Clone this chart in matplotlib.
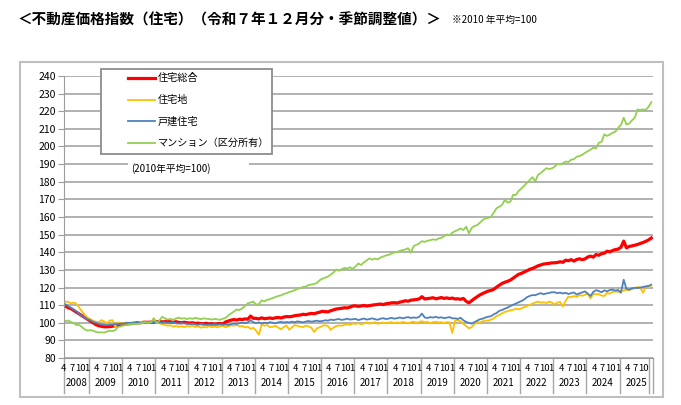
import numpy as np
import matplotlib
matplotlib.use("Agg")
import matplotlib.pyplot as plt
from matplotlib.lines import Line2D
from matplotlib.patches import Rectangle

plt.rcParams['font.family'] = ['Noto Sans CJK JP', 'DejaVu Sans']

# 月次データ 2008年4月〜2025年12月（2010年平均=100）
first_year, first_month = 2008, 4
years = list(range(2008, 2026))
tick_months = [1, 4, 7, 10]

sogo = [109.5, 108.5, 108, 107, 106, 105, 104, 103, 102,
        101, 100, 99, 98.3, 98, 97.7, 97.7, 97.8, 98, 98.3, 98.5, 98.8,
        99, 99.2, 99.5, 99.5, 99.8, 100, 100, 100.2, 100.3, 100.2, 100.4, 100.3,
        100.5, 100.8, 100.5, 100.6, 100.9, 100.5, 100.3, 100.6, 100.2, 100, 100.3, 100,
        99.8, 100, 99.6, 99.8, 99.5, 99.4, 99.7, 99.3, 99.5, 99.2, 99.4, 99.6,
        99.3, 100.5, 101, 101.5, 101.8, 101.5, 102, 101.8, 102.2, 102, 103.8, 102.5,
        102.5, 102.2, 102.8, 102.3, 102.5, 102.7, 102.4, 102.8, 103, 102.7, 103.2, 103.5,
        103.4, 103.6, 104, 104.2, 104.4, 104.8, 104.6, 105, 105.3, 105.1, 105.6, 106,
        106.5, 106.3, 106.2, 106.8, 107.3, 107.8, 108, 108.2, 108.5, 108.4, 108.9, 109.5,
        109.6, 109.3, 109.5, 109.8, 109.5, 109.7, 110, 110.2, 110.4, 110.6, 110.3, 110.8,
        111, 111.3, 111.4, 111.2, 111.7, 112, 112.5, 112.2, 112.8, 113, 113.2, 113.5,
        114.8, 113.5, 113.7, 113.9, 114.2, 113.6, 113.9, 114.3, 113.8, 114.1, 113.7, 114,
        113.5, 113.6, 113.3, 113.8, 112.2, 111.3, 112.5, 113.7, 114.8, 115.8, 116.6, 117.3,
        118, 118.3, 119, 120.2, 121.3, 122.3, 123, 123.5, 124.2, 125.3, 126.4, 127.5,
        128, 128.8, 129.5, 130.3, 130.8, 131.5, 132.3, 132.8, 133.3, 133.5, 133.7, 134,
        134, 134.2, 134.6, 134.3, 135.5, 135.2, 135.8, 135, 135.9, 136.3, 135.8, 136.2,
        137.3, 137.8, 137.2, 138.7, 138.3, 139.2, 139.5, 140.6, 140.2, 141, 141.5, 141.8,
        142.8, 146.3, 142.5, 143.3, 143.6, 144, 144.4, 145, 145.5, 146.2, 147, 148.1]

jutakuchi = [112, 111.8, 111, 111.4, 110.8, 108.5, 106.5, 104.5, 103,
             102, 101.2, 100.6, 100.2, 101.5, 100.8, 99.6, 101.2, 101.5, 97.7, 100.2, 99.5,
             99.8, 100.2, 99.6, 100.3, 100.5, 99.8, 100.6, 100.2, 100.4, 99.9, 100.5, 100.3,
             100.2, 99.7, 99.2, 98.8, 98.3, 98.6, 97.8, 98.2, 97.6, 98, 97.5, 98.1,
             97.8, 98.3, 97.6, 98, 97.2, 97.7, 97.3, 98.1, 97.5, 97.9, 97.4, 98,
             98.2, 97.5, 98, 98.6, 98.3, 98.8, 97.9, 98.2, 97.3, 97.8, 96.5, 97.2,
             95.5, 93.2, 99, 98.3, 98.7, 97.5, 97.7, 98.3, 97.2, 96.3, 97.5, 98.5,
             96, 97.5, 98.7, 98.2, 97.8, 97.5, 98.4, 97.9, 97.2, 94.8, 96.8, 97.4,
             98.3, 98.6, 98.1, 96, 97.2, 98.1, 98.5, 98.3, 98.9, 99.2, 98.8, 99.6,
             99.3, 99.8, 99.1, 99.6, 100.2, 99.5, 99.9, 100.3, 99.4, 99.8, 100.1, 99.6,
             100, 100.4, 99.7, 100.2, 99.8, 100.5, 100.1, 99.6, 100.3, 100.6, 100, 100.4,
             100.9, 100.2, 100.5, 99.8, 100.3, 100.6, 100.1, 100.4, 99.9, 100.3, 100.2, 94.2,
             101.2, 101.5, 100.8, 99.3, 98.2, 96.8, 97.5, 99.2, 100.4, 100.2, 100.8, 101.3,
             101.2, 101.8, 102.5, 103.8, 104.4, 105.3, 106.2, 106.5, 107.1, 107.3, 108, 107.6,
             108.2, 108.8, 109.4, 110.2, 110.8, 111.5, 112, 111.4, 111.6, 111.2, 112, 111.5,
             110.3, 111.5, 111.8, 109.2, 112.5, 114.8, 114.5, 115.2, 114.7, 115.7, 115.3, 115.9,
             116.5, 113.8, 116.4, 116.1, 116.3, 115.4, 115.2, 116.9, 116.5, 117.6, 117.8, 117.5,
             117.9, 118.2, 118.8, 118.5, 119.2, 119.5, 120.3, 119.8, 117, 120.7, 120.2, 120.3]

kodate = [110.5, 109.5, 108.5, 107.5, 106.5, 105, 104, 103, 102,
          101.5, 100.5, 100, 99.5, 99, 98.8, 98.7, 98.8, 99, 99.2, 99.3, 99.5,
          99.6, 99.8, 100, 99.7, 100.1, 100.3, 100, 99.8, 100.2, 100.4, 100.1, 100.3,
          100.5, 100.2, 100, 100.3, 99.8, 100, 100.2, 99.7, 99.5, 99.8, 99.6, 99.4,
          99.2, 99.5, 99, 98.8, 99.3, 99, 98.7, 99, 98.8, 99.2, 98.9, 99.1,
          98.8, 99, 98.7, 99.2, 99.5, 99.3, 99.8, 100, 99.7, 100.2, 101.5, 100.3,
          99.8, 100.2, 99.6, 100, 99.8, 100.3, 100, 99.7, 100.2, 100.5, 100.1, 100.4,
          100.2, 100.6, 100.3, 100.8, 100.5, 100.2, 100.7, 101, 100.6, 100.9, 101.2, 100.8,
          101, 101.4, 101.2, 101.8, 101.5, 101.9, 102.1, 101.6, 101.9, 102.3, 101.8, 102,
          102.2, 101.5, 102, 102.4, 101.8, 102.1, 102.5, 102, 101.7, 102.3, 102.6, 102.1,
          102.4, 102.8, 102.3, 102.6, 103, 102.5, 102.9, 103.2, 102.7, 103, 102.8, 103.3,
          105.2, 103, 102.7, 103.2, 102.9, 103.4, 102.8, 103.1, 102.6, 102.9, 103.2, 102.5,
          102.5, 102.2, 102.8, 101.4, 100.5, 99.9, 99.5, 100.3, 101.2, 102, 102.3, 103,
          103.4, 103.7, 104.8, 105.5, 106.8, 107.2, 108, 108.6, 109.5, 110.2, 110.9, 111.6,
          112.3, 113.2, 114.5, 115.2, 115.7, 115.6, 116.3, 116.8, 116.2, 116.6, 116.9, 117.3,
          117.3, 116.8, 117.1, 116.6, 117, 116.3, 116.8, 117.2, 116, 116.7, 117.2, 117.8,
          116.5, 115.2, 117.5, 118.5, 118, 117.3, 118.4, 117.8, 118.6, 118.8, 118.2, 118.6,
          117, 124.4, 119.2, 118.8, 119.5, 119.8, 119.7, 120, 120.3, 120.6, 120.9, 121.6]

mansion = [101, 101.2, 100.5, 99.8, 98.7, 98.8, 97.5, 96.2, 95.5,
           95.8, 95.5, 94.8, 94.5, 94.6, 94.4, 95, 95.5, 95.3, 95.7, 97.6, 97.9,
           98.5, 98.7, 99, 99.2, 99.4, 99.2, 99.6, 99.8, 100.2, 100, 100.4, 102.6,
           99.9, 101.2, 103.4, 102.5, 101.8, 102.2, 101.6, 102.4, 102.9, 102.3, 102.6, 102.1,
           102.6, 102.2, 102.8, 102.4, 102, 102.5, 102.3, 102.1, 101.8, 102.2, 101.9, 101.7,
           102.3, 102.8, 104.2, 105.3, 106.4, 107.5, 107.2, 108.2, 109.5, 111, 111.5, 112,
           110.3, 110.5, 112.7, 112.1, 113, 113.4, 114, 114.6, 115.2, 115.5, 116.3, 116.8,
           117.4, 117.9, 118.5, 119.2, 119.7, 120.3, 120.6, 121.4, 121.7, 122, 122.6, 124.1,
           125, 125.6, 126.2, 127.3, 128.5, 130.2, 129.5, 130.4, 131.1, 130.8, 131.5, 130.6,
           132, 133.6, 132.8, 134.2, 135.4, 136.5, 135.8, 136.4, 135.9, 137, 137.6, 138.2,
           138.5, 139.3, 139.8, 140.1, 140.8, 141.2, 141.6, 142.3, 139.7, 143.5, 144.2, 145,
           146.3, 145.9, 146.5, 146.8, 147.3, 147, 147.8, 148.2, 149.1, 150.1, 149.6, 151.1,
           152, 152.6, 153.5, 152.6, 154.5, 150.7, 153.8, 154.9, 155.4, 156.8, 158.3, 159.2,
           159.5, 160.2, 162.5, 165, 165.8, 166.9, 169.7, 168.2, 168.7, 172.6, 172.5, 174.8,
           176.2, 177.7, 179.4, 181, 182.6, 180.2, 183.9, 185, 186.3, 187.7, 187.2, 187.6,
           188.5, 190.2, 189.8, 190.5, 191.5, 191.2, 192.5, 192.8, 194.2, 194.6, 195.3, 196.4,
           197.3, 198.2, 199.3, 199, 202.1, 202.7, 206.9, 206, 206.8, 207.8, 208.4, 210.6,
           212.2, 216.3, 212.5, 213, 214.8, 216.3, 221, 220.7, 221, 220.8, 222.5, 225.2]

series = [("住宅総合", sogo, "#FF0000", 2.3),
          ("住宅地", jutakuchi, "#FFC000", 1.3),
          ("戸建住宅", kodate, "#4F81BD", 1.3),
          ("マンション（区分所有）", mansion, "#92D050", 1.3)]

W, H = 681, 405
fx = lambda px: px / W
fy = lambda py: 1 - py / H

fig = plt.figure(figsize=(W / 100, H / 100), dpi=100)
ax = fig.add_axes([fx(64), fy(358), fx(652.7) - fx(64), fy(76) - fy(358)])

# 月のインデックス
months = []
y, m = first_year, first_month
for _ in range(len(sogo)):
    months.append((y, m))
    m += 1
    if m > 12:
        y, m = y + 1, 1
x = np.arange(len(months))

for name, vals, col, lw in series:
    ax.plot(x, vals, color=col, lw=lw, solid_joinstyle="round", label=name)

ax.set_xlim(-0.5, len(months) - 0.5)
ax.set_ylim(80, 240)
ax.set_yticks(range(80, 241, 10))
ax.yaxis.grid(True, color="#9C9C9C", lw=1.1)
ax.set_axisbelow(True)
ax.set_xticks([])
for s in ["top", "right"]:
    ax.spines[s].set_visible(False)
for s in ["left", "bottom"]:
    ax.spines[s].set_color("#9C9C9C")
ax.tick_params(axis="y", length=4, color="#9C9C9C", labelsize=7.5, pad=2)

# 年の区切りと目盛ラベル
xt = ax.get_xaxis_transform()
bounds = [-0.5] + [i - 0.5 for i, (yy, mm) in enumerate(months) if mm == 1] + [len(months) - 0.5]
for b in bounds:
    ax.plot([b, b], [0, -0.125], transform=xt, clip_on=False, color="#A6A6A6", lw=1)
ax.plot([len(months) - 2, len(months) - 2], [0, -0.125], transform=xt, clip_on=False, color="#A6A6A6", lw=1)

for i, (yy, mm) in enumerate(months):
    if mm in tick_months:
        off = -1.3 if mm == 1 else -0.7
        ax.text(i + off, -0.036, str(mm), transform=xt, ha="center", va="center", fontsize=6.8)
for yr in years:
    idx = [i for i, (yy, mm) in enumerate(months) if yy == yr]
    ax.text((idx[0] + idx[-1]) / 2, -0.09, str(yr), transform=xt, ha="center", va="center", fontsize=7)

# 外枠
fig.add_artist(Rectangle((fx(20), fy(397)), fx(663) - fx(20), fy(62) - fy(397),
                         fill=False, edgecolor="#BFBFBF", lw=1.5, transform=fig.transFigure))

# 凡例
fig.add_artist(Rectangle((fx(101), fy(154)), fx(272) - fx(101), fy(69) - fy(154),
                         facecolor="white", edgecolor="#8C8C8C", lw=1.3, transform=fig.transFigure))
for k, (name, vals, col, lw) in enumerate(series):
    ry = 78 + k * 21.7
    fig.add_artist(Line2D([fx(128), fx(155)], [fy(ry), fy(ry)], color=col, lw=lw,
                          transform=fig.transFigure))
    fig.text(fx(158), fy(ry), name, fontsize=7.3, va="center", ha="left")

fig.add_artist(Rectangle((fx(128), fy(175)), fx(249) - fx(128), fy(161) - fy(175),
                         facecolor="white", edgecolor="none", transform=fig.transFigure))
fig.text(fx(131), fy(169), "(2010年平均=100)", fontsize=7, va="center", ha="left")

# タイトル
fig.text(fx(18), fy(20), "＜不動産価格指数（住宅）（令和７年１２月分・季節調整値）＞",
         fontsize=10.5, fontweight="bold", va="center", ha="left")
fig.text(fx(452), fy(20), "※2010 年平均=100", fontsize=7, va="center", ha="left")

fig.savefig("out.png", dpi=100)
